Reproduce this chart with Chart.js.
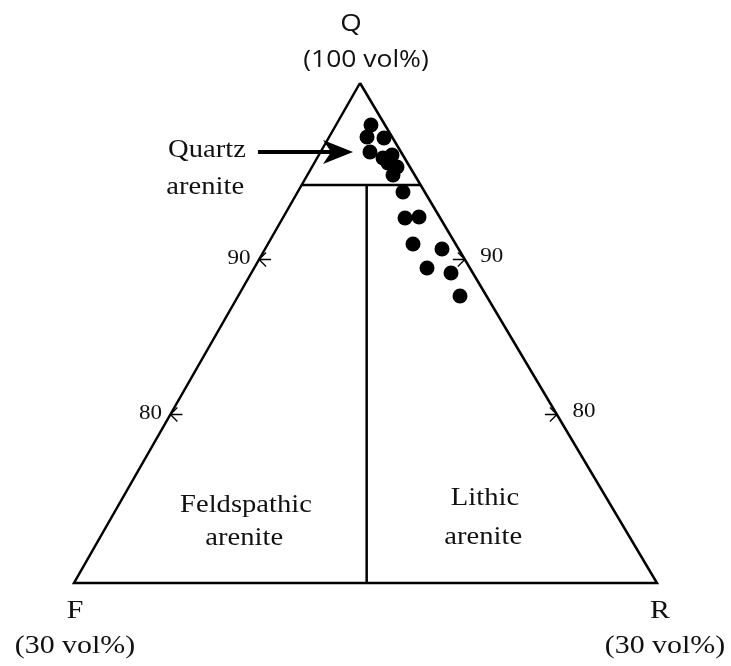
<!DOCTYPE html>
<html>
<head>
<meta charset="utf-8">
<script src="https://cdn.jsdelivr.net/npm/chart.js@4/dist/chart.umd.min.js"></script>
<style>
	html, body { margin: 0; padding: 0; background: #fff; }
	#wrap { width: 731px; height: 666px; }
</style>
</head>
<body>
<div id="wrap"><canvas id="qfrChart"></canvas></div>
<script>
// plot units: x runs 0..100 along the F-R base, y runs 0 (base) .. 100 (Q apex)
const cornerNames = ["Q", "F", "R"];
const cornerAmounts = ["(100 vol%)", "(30 vol%)", "(30 vol%)"];
const cornerX = [49.06, 0, 100];
const cornerY = [100, 0, 0];

const tickLabels = ["90", "80"];
const tickLevels = [64.7, 33.7];

const quartzLevel = 79.6;
const dividerX = 50.2;

const fieldNames = [["Quartz", "arenite"], ["Feldspathic", "arenite"], ["Lithic", "arenite"]];

const sampleX = [50.94, 50.26, 53.17, 50.77, 53.0, 54.55, 53.86, 55.4, 54.72, 56.43, 56.78, 59.18, 58.15, 63.12, 60.55, 64.67, 66.21];
const sampleY = [91.6, 89.2, 89.0, 86.2, 85.0, 85.6, 84.0, 83.2, 81.6, 78.2, 73.0, 73.2, 67.8, 66.8, 63.0, 62.0, 57.4];

const black = "#000";

function leftEdgeX(y) {
	return cornerX[1] + (cornerX[0] - cornerX[1]) * (y - cornerY[1]) / (cornerY[0] - cornerY[1]);
}
function rightEdgeX(y) {
	return cornerX[2] + (cornerX[0] - cornerX[2]) * (y - cornerY[2]) / (cornerY[0] - cornerY[2]);
}

const trianglePts = [0, 1, 2, 0].map((i) => ({ x: cornerX[i], y: cornerY[i] }));
const quartzPts = [
	{ x: leftEdgeX(quartzLevel), y: quartzLevel },
	{ x: rightEdgeX(quartzLevel), y: quartzLevel },
];
const dividerPts = [
	{ x: dividerX, y: 0 },
	{ x: dividerX, y: quartzLevel },
];
const samplePts = sampleX.map((x, i) => ({ x: x, y: sampleY[i] }));

function lineSet(pts) {
	return {
		type: "line",
		data: pts,
		showLine: true,
		borderColor: black,
		borderWidth: 2.5,
		pointRadius: 0,
		fill: false,
		tension: 0,
		clip: false,
		order: 2,
	};
}

function drawText(ctx, txt, px, py, font, sx) {
	ctx.save();
	ctx.translate(px, py);
	ctx.scale(sx, 1);
	ctx.font = font;
	ctx.fillStyle = "#111";
	ctx.textAlign = "center";
	ctx.textBaseline = "middle";
	ctx.fillText(txt, 0, 0);
	ctx.restore();
}

const serif = "26px 'Liberation Serif', serif";
const serifSmall = "20px 'Liberation Serif', serif";
const sans = "23px 'Open Sans', sans-serif";
const sansBig = "24px 'Open Sans', sans-serif";

const labelPlugin = {
	id: "qfrLabels",
	afterDatasetsDraw(chart) {
		const ctx = chart.ctx;
		const xs = chart.scales.x;
		const ys = chart.scales.y;
		const px = (x) => xs.getPixelForValue(x);
		const py = (y) => ys.getPixelForValue(y);

		// Q-level tick arrows on both sides
		ctx.save();
		ctx.strokeStyle = black;
		ctx.lineWidth = 1.3;
		tickLevels.forEach((lvl, i) => {
			[[leftEdgeX(lvl), 1, -20, -1], [rightEdgeX(lvl), -1, 27, -3]].forEach(([ex, dir, dx, dy]) => {
				const x0 = px(ex);
				const y0 = py(lvl);
				ctx.beginPath();
				ctx.moveTo(x0 + dir * 12, y0);
				ctx.lineTo(x0, y0);
				ctx.moveTo(x0 + dir * 7, y0 - 7);
				ctx.lineTo(x0, y0);
				ctx.lineTo(x0 + dir * 7, y0 + 7);
				ctx.stroke();
				drawText(ctx, tickLabels[i], x0 + dx, y0 + dy, serifSmall, 1.15);
			});
		});
		ctx.restore();

		// arrow pointing at the quartz arenite cluster
		const ax0 = px(31.56), ax1 = px(47.86), ay = py(86.2);
		ctx.save();
		ctx.strokeStyle = black;
		ctx.fillStyle = black;
		ctx.lineWidth = 4;
		ctx.beginPath();
		ctx.moveTo(ax0, ay);
		ctx.lineTo(ax1 - 20, ay);
		ctx.stroke();
		ctx.beginPath();
		ctx.moveTo(ax1, ay);
		ctx.lineTo(ax1 - 30, ay - 12);
		ctx.lineTo(ax1 - 22, ay);
		ctx.lineTo(ax1 - 30, ay + 12);
		ctx.closePath();
		ctx.fill();
		ctx.restore();

		// corner labels
		drawText(ctx, cornerNames[0], px(47.51), py(111.8), sansBig, 1.15);
		drawText(ctx, cornerAmounts[0], px(50.09), py(104.6), sans, 1.15);
		drawText(ctx, cornerNames[1], px(0.17), py(-5.6), serif, 1.15);
		drawText(ctx, cornerAmounts[1], px(0.17), py(-12.6), serif, 1.15);
		drawText(ctx, cornerNames[2], px(100.51), py(-5.6), serif, 1.15);
		drawText(ctx, cornerAmounts[2], px(101.37), py(-12.6), serif, 1.15);

		// field names
		const fieldPos = [[22.8, 86.6, 22.5, 79.2], [29.5, 15.6, 29.2, 9.0], [70.5, 17.0, 70.2, 9.2]];
		fieldNames.forEach((words, i) => {
			const p = fieldPos[i];
			drawText(ctx, words[0], px(p[0]), py(p[1]), serif, 1.1);
			drawText(ctx, words[1], px(p[2]), py(p[3]), serif, 1.1);
		});
	},
};

new Chart(document.getElementById("qfrChart"), {
	type: "scatter",
	data: {
		datasets: [
			lineSet(trianglePts),
			lineSet(quartzPts),
			lineSet(dividerPts),
			{
				data: samplePts,
				pointRadius: 7.5,
				pointHoverRadius: 7.5,
				backgroundColor: black,
				borderWidth: 0,
				clip: false,
				order: 1,
			},
		],
	},
	options: {
		responsive: true,
		maintainAspectRatio: false,
		animation: false,
		layout: { padding: { left: 74, right: 74, top: 83, bottom: 83 } },
		plugins: { legend: { display: false }, tooltip: { enabled: false } },
		scales: {
			x: { type: "linear", min: 0, max: 100, display: false },
			y: { type: "linear", min: 0, max: 100, display: false },
		},
	},
	plugins: [labelPlugin],
});
</script>
</body>
</html>
